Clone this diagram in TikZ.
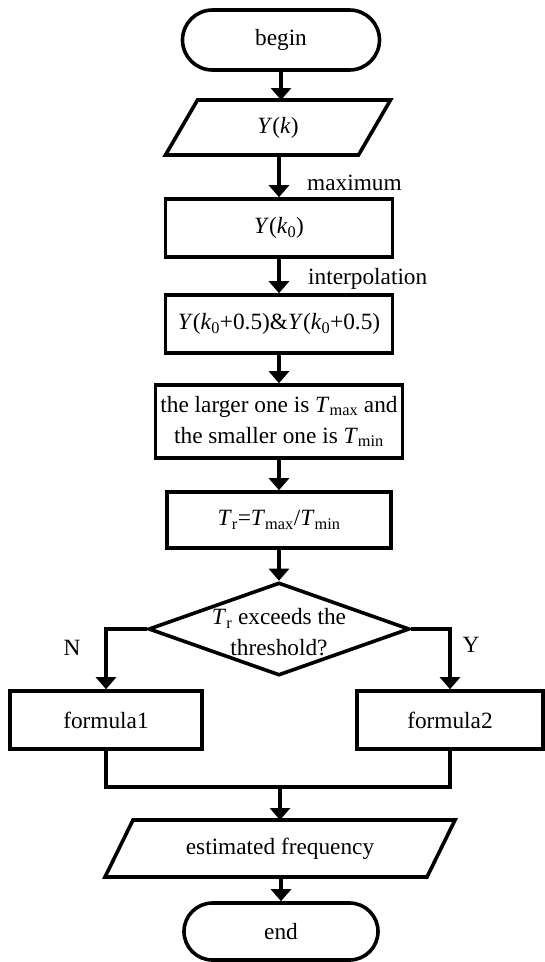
\documentclass[tikz,border=0pt]{standalone}
\usepackage{fontspec}
\setmainfont{Liberation Serif}
\usetikzlibrary{shapes.geometric,shapes.misc,arrows.meta}
\begin{document}
\begin{tikzpicture}[x=1pt,y=-1pt,
 every node/.style={font=\fontsize{23.3}{31}\selectfont},
 box/.style={draw, line width=3.6pt, rectangle, inner sep=0pt, align=center},
 term/.style={draw, line width=3.6pt, rounded rectangle, inner sep=0pt},
 iobox/.style={rectangle, inner sep=0pt, outer sep=0pt},
 arr/.style={line width=3.6pt, -{Triangle[width=20pt,length=12pt]}},
 lnw/.style={line width=3.6pt, line join=miter},
 lbl/.style={inner sep=0pt}]
\useasboundingbox (0,0) rectangle (545,962);
\node[term, minimum width=197pt, minimum height=60pt] (begin) at (281,40) {begin};
\node[iobox, minimum width=225pt, minimum height=55pt] (yk) at (278,127.5) {\textit{Y}(\textit{k})};
\draw[lnw] ([xshift=32pt]yk.north west) -- (yk.north east) -- ([xshift=-32pt]yk.south east) -- (yk.south west) -- cycle;
\node[box, minimum width=227pt, minimum height=58pt] (yk0) at (279,228) {\textit{Y}(\textit{k}\textsubscript{0})};
\node[box, minimum width=227pt, minimum height=58pt] (yk5) at (279,324) {\textit{Y}(\textit{k}\textsubscript{0}+0.5)\&\textit{Y}(\textit{k}\textsubscript{0}+0.5)};
\node[box, minimum width=247pt, minimum height=73pt] (cmp) at (279,421.5) {the larger one is \textit{T}\textsubscript{max} and\\the smaller one is \textit{T}\textsubscript{min}};
\node[box, minimum width=224pt, minimum height=56pt] (tr) at (279,520) {\textit{T}\textsubscript{r}=\textit{T}\textsubscript{max}/\textit{T}\textsubscript{min}};
\node[diamond, draw, lnw, minimum width=261pt, minimum height=93pt, inner sep=0pt] (dec) at (279,629) {};
\node[align=center, inner sep=0pt] (dectxt) at (279,632) {\textit{T}\textsubscript{r} exceeds the\\threshold?};
\node[box, minimum width=192pt, minimum height=58pt] (f1) at (106,720) {formula1};
\node[box, minimum width=186pt, minimum height=58pt] (f2) at (450,720) {formula2};
\coordinate (m) at (280,787);
\node[iobox, minimum width=350pt, minimum height=57pt] (est) at (280,848.5) {estimated frequency};
\draw[lnw] ([xshift=28pt]est.north west) -- (est.north east) -- ([xshift=-28pt]est.south east) -- (est.south west) -- cycle;
\node[term, minimum width=194pt, minimum height=57pt] (stop) at (281,931.5) {end};
\node[lbl, anchor=west] (lmax) at (307,183) {maximum};
\node[lbl, anchor=west] (lint) at (308,279) {interpolation};
\node[lbl] (labN) at (72,648) {N};
\node[lbl] (labY) at (471,645) {Y};
\draw[arr] (begin.south) -- (begin.south |- yk.north);
\draw[arr] (yk0.north |- yk.south) -- (yk0.north);
\draw[arr] (yk0.south) -- (yk5.north);
\draw[arr] (yk5.south) -- (cmp.north);
\draw[arr] (cmp.south) -- (tr.north);
\draw[arr] (tr.south) -- (dec.north);
\draw[arr] (dec.west) -| (f1.north);
\draw[arr] (dec.east) -| (f2.north);
\draw[lnw] (f1.south) |- (m);
\draw[lnw] (f2.south) |- (m);
\draw[arr] (m) -- (est.north);
\draw[arr] (est.south) -- (est.south -| stop.north) -- (stop.north);
\end{tikzpicture}
\end{document}
